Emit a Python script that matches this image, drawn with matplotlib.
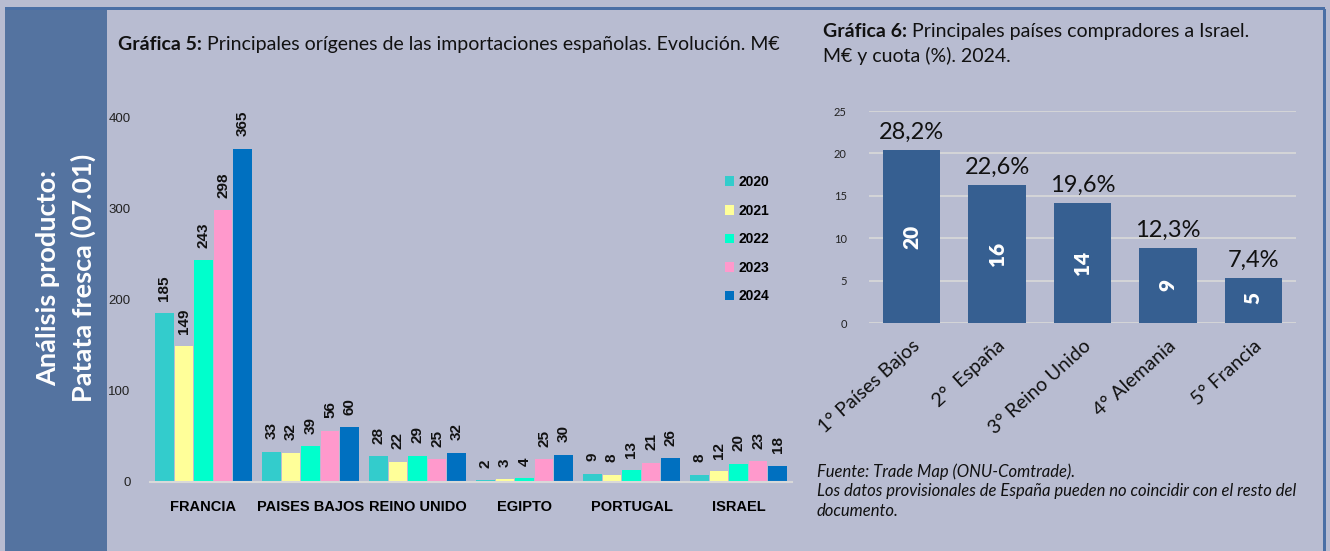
import numpy as np
import matplotlib
matplotlib.use("Agg")
import matplotlib.pyplot as plt
from matplotlib.patches import Rectangle

# Datos gráfica 5
paises5 = ["FRANCIA", "PAISES BAJOS", "REINO UNIDO", "EGIPTO", "PORTUGAL", "ISRAEL"]
anios = ["2020", "2021", "2022", "2023", "2024"]
v2020 = [185, 33, 28, 2, 9, 8]
v2021 = [149, 32, 22, 3, 8, 12]
v2022 = [243, 39, 29, 4, 13, 20]
v2023 = [298, 56, 25, 25, 21, 23]
v2024 = [365, 60, 32, 30, 26, 18]
colores5 = ["#33CCCC", "#FFFF99", "#00FFCC", "#FF99CC", "#0070C0"]

# Datos gráfica 6
paises6 = ["1° Países Bajos", "2°  España", "3° Reino Unido", "4° Alemania", "5° Francia"]
valores6 = [20.4, 16.3, 14.2, 8.9, 5.35]
cuotas6 = ["28,2%", "22,6%", "19,6%", "12,3%", "7,4%"]

FONDO = "#B8BCD1"
AZUL_BORDE = "#4A6FA5"
ARIAL = "Liberation Sans"
GILL = "Lato"

fig = plt.figure(figsize=(13.3, 5.51), dpi=100)
fig.patch.set_facecolor(FONDO)
W, H = 1330, 551

def fx(px):
    return px / W

def fy(py):
    return 1 - py / H

# marco y banda izquierda
fig.patches.append(Rectangle((fx(5), 0), fx(102), fy(9), transform=fig.transFigure,
                             facecolor="#5473A0", edgecolor="none", zorder=0))
fig.patches.append(Rectangle((fx(5), fy(10)), fx(1320), 3 / H, transform=fig.transFigure,
                             facecolor=AZUL_BORDE, edgecolor="none", zorder=1))
fig.patches.append(Rectangle((fx(1323), 0), 3 / W, fy(9), transform=fig.transFigure,
                             facecolor=AZUL_BORDE, edgecolor="none", zorder=1))

fig.text(fx(48), fy(278), "Análisis producto:", rotation=90, color="white",
         fontsize=19.5, fontweight="bold", family=GILL, ha="center", va="center")
fig.text(fx(83), fy(278), "Patata fresca (07.01)", rotation=90, color="white",
         fontsize=19.5, fontweight="bold", family=GILL, ha="center", va="center")

# --- GRÁFICA 5 ---
ax1 = fig.add_axes([fx(150), fy(482), fx(642), 365 / H])
ax1.set_facecolor("none")
series = [v2020, v2021, v2022, v2023, v2024]
x = np.arange(len(paises5))
ancho = 0.183
for i, (vals, col, anio) in enumerate(zip(series, colores5, anios)):
    pos = x + (i - 2) * ancho
    ax1.bar(pos, vals, width=ancho * 0.94, color=col, label=anio, zorder=2)
    for p, v in zip(pos, vals):
        ax1.annotate(str(v), (p, v), xytext=(0, 9), textcoords="offset points",
                     rotation=90, ha="center", va="bottom", fontsize=11,
                     fontweight="bold", family=ARIAL, color="#111111")
ax1.set_xlim(-0.5, len(paises5) - 0.5)
ax1.set_ylim(0, 400)
ax1.set_yticks([0, 100, 200, 300, 400])
ax1.set_xticks(x)
ax1.set_xticklabels(paises5, fontsize=10.5, fontweight="bold", family=ARIAL)
ax1.tick_params(axis="x", length=0, pad=13)
ax1.tick_params(axis="y", length=0, pad=14, labelsize=9.5, labelcolor="#222222")
for lab in ax1.get_yticklabels():
    lab.set_family(ARIAL)
for s in ["top", "right", "left"]:
    ax1.spines[s].set_visible(False)
ax1.spines["bottom"].set_color("#D9D9D9")
ax1.spines["bottom"].set_linewidth(1.5)

leg = ax1.legend(loc="upper left", bbox_to_anchor=((712 - 150) / 642, 0.875),
                 frameon=False, handlelength=0.7, handleheight=0.7, handletextpad=0.3,
                 labelspacing=1.05, prop={"family": ARIAL, "weight": "bold", "size": 10})

# --- GRÁFICA 6 ---
ax2 = fig.add_axes([fx(869), fy(323), fx(427), 212 / H])
ax2.set_facecolor("none")
x6 = np.arange(len(paises6))
barras = ax2.bar(x6, valores6, width=0.67, color="#365F91", zorder=2)
for b, v, c in zip(barras, valores6, cuotas6):
    ax2.annotate(c, (b.get_x() + b.get_width() / 2, v), xytext=(0, 5),
                 textcoords="offset points", ha="center", va="bottom",
                 fontsize=17, family=GILL, color="#111111")
    ax2.text(b.get_x() + b.get_width() / 2, v / 2 if v > 8 else v / 2 + 0.3,
             str(int(round(v))), rotation=90, ha="center", va="center",
             fontsize=15, fontweight="heavy", family=GILL, color="white", zorder=3)
ax2.set_xlim(-0.5, len(paises6) - 0.5)
ax2.set_ylim(0, 25)
ax2.set_yticks([0, 5, 10, 15, 20, 25])
ax2.yaxis.grid(True, color="#D9D9D9", linewidth=1.2, zorder=0)
ax2.set_axisbelow(True)
ax2.tick_params(axis="y", length=0, pad=16, labelsize=8, labelcolor="#222222")
ax2.tick_params(axis="x", length=0, pad=10)
ax2.set_xticks(x6)
ax2.set_xticklabels(paises6, rotation=42, ha="right", rotation_mode="anchor",
                    fontsize=14, family=GILL, color="#111111")
for lab in ax2.get_yticklabels():
    lab.set_family(GILL)
for s in ax2.spines.values():
    s.set_visible(False)

# titulos
fig.canvas.draw()
r = fig.canvas.get_renderer()

def titulo(px, py, negrita, resto):
    t = fig.text(fx(px), fy(py), negrita, fontsize=14, fontweight="bold",
                 family=GILL, va="baseline", color="#111111")
    ext = t.get_window_extent(renderer=r)
    fig.text((ext.x1 + 5) / W, fy(py), resto, fontsize=14, family=GILL,
             va="baseline", color="#111111")

titulo(118, 50, "Gráfica 5:", "Principales orígenes de las importaciones españolas. Evolución. M€")
titulo(823, 37, "Gráfica 6:", "Principales países compradores a Israel.")
fig.text(fx(823), fy(62), "M€ y cuota (%). 2024.", fontsize=14, family=GILL,
         va="baseline", color="#111111")

nota = ("Fuente: Trade Map (ONU-Comtrade).\n"
        "Los datos provisionales de España pueden no coincidir con el resto del\n"
        "documento.")
fig.text(fx(817), fy(463), nota, fontsize=12, style="italic", family=GILL,
         va="top", ha="left", color="#111111", linespacing=1.3)

fig.savefig("out.png", dpi=100, facecolor=fig.get_facecolor())
